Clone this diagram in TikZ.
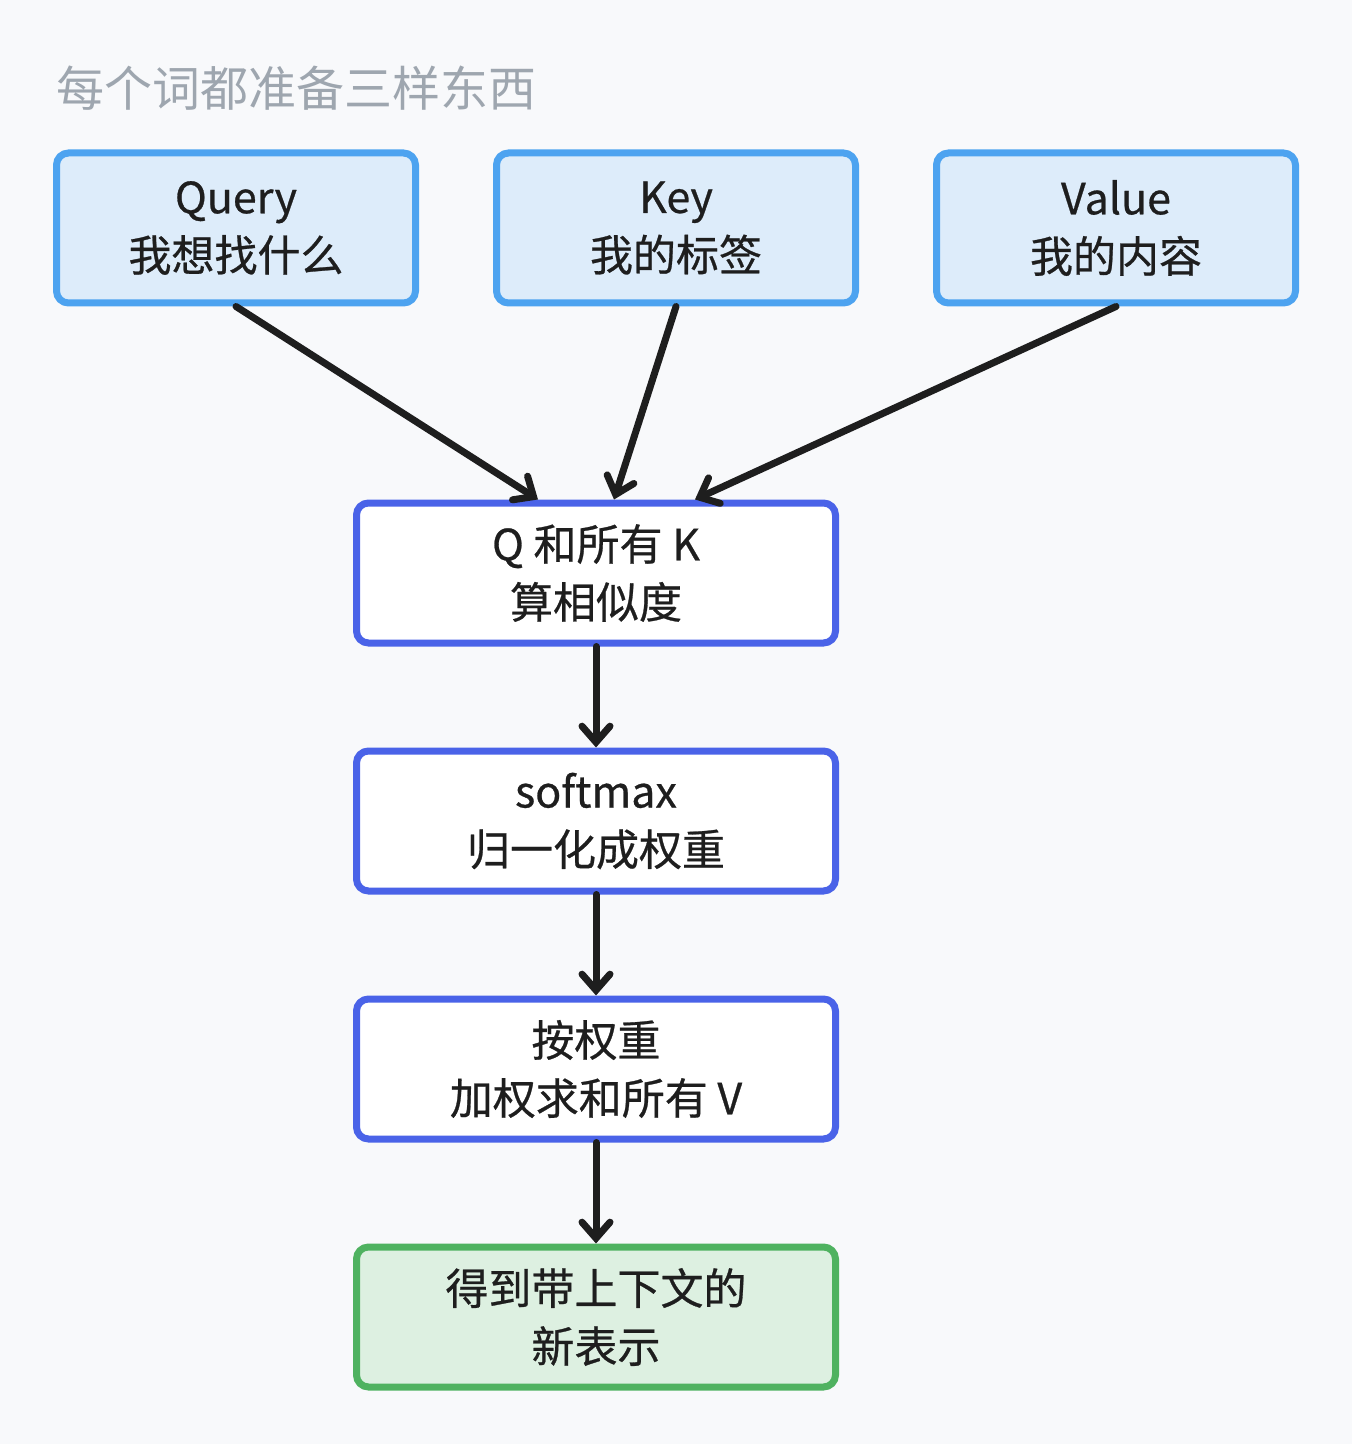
\documentclass[tikz,border=0pt]{standalone}
\usepackage{fontspec}
\setmainfont{Noto Sans CJK SC}
\newfontfamily\boitefont[FakeBold=0.6]{Noto Sans CJK SC}
\usetikzlibrary{arrows.meta}

\definecolor{fondpage}{HTML}{F8F9FB}
\definecolor{titregris}{HTML}{9EA6AF}
\definecolor{bleuclair}{HTML}{4DA3F0}
\definecolor{bleufond}{HTML}{DDECFA}
\definecolor{bleuroi}{HTML}{4A63E8}
\definecolor{vertbord}{HTML}{4FB260}
\definecolor{vertfond}{HTML}{DDF0E1}
\definecolor{encre}{HTML}{1E1E1E}

\tikzset{
  boite/.style = {draw, line width = 3.5pt, rounded corners = 6pt, align = center,
                  text = encre, font = \boitefont\fontsize{21.5}{29}\selectfont, inner sep = 0pt},
  entree/.style = {boite, draw = bleuclair, fill = bleufond,
                   minimum width = 179.5pt, minimum height = 75pt},
  etape/.style = {boite, draw = bleuroi, fill = white,
                  minimum width = 239.5pt, minimum height = 70pt},
  sortie/.style = {etape, draw = vertbord, fill = vertfond},
  fleche/.style = {encre, line width = 3.5pt, line cap = round,
                   -{Straight Barb[length = 8pt, width = 14pt, line cap = round]}}
}

\begin{document}
\begin{tikzpicture}[x = 0.5pt, y = -0.5pt]
  % fond et cadre
  \fill[fondpage] (0,0) rectangle (1352,1444);
  \useasboundingbox (0,0) rectangle (1352,1444);

  % titre
  \node[anchor = west, text = titregris, inner sep = 0pt,
        font = \fontsize{24}{28}\selectfont] (titre) at (56,88) {每个词都准备三样东西};

  % les trois entrées
  \node[entree] (query) at (236,228) {Query\\我想找什么};
  \node[entree] (key) at (676,228) {Key\\我的标签};
  \node[entree] (value) at (1116,228) {Value\\我的内容};

  % les étapes
  \node[etape] (simil) at (596,573) {Q 和所有 K\\算相似度};
  \node[etape] (softmax) at (596,821) {softmax\\归一化成权重};
  \node[etape] (somme) at (596,1069) {按权重\\加权求和所有 V};
  \node[sortie] (resultat) at (596,1317) {得到带上下文的\\新表示};

  % les flèches
  \draw[fleche] (query.south) -- ([xshift = -29pt]simil.north);
  \draw[fleche] (key.south) -- ([xshift = 9pt]simil.north);
  \draw[fleche] (value.south) -- ([xshift = 49.5pt]simil.north);
  \draw[fleche] (simil) -- (softmax);
  \draw[fleche] (softmax) -- (somme);
  \draw[fleche] (somme) -- (resultat);
\end{tikzpicture}
\end{document}
